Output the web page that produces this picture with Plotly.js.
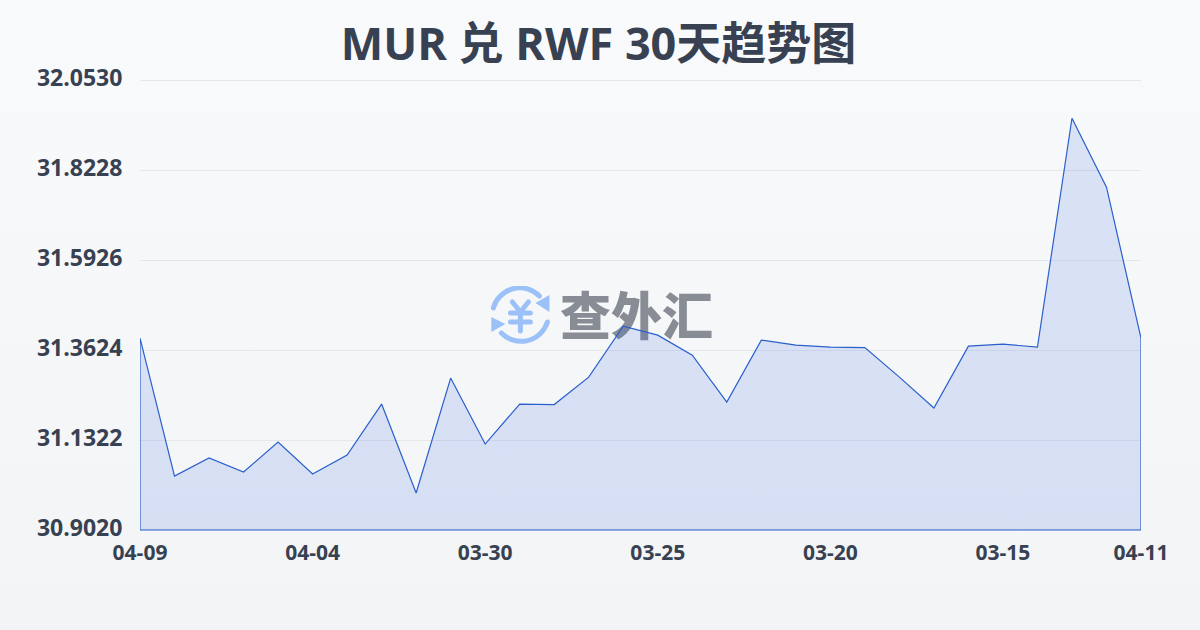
<!DOCTYPE html>
<html><head><meta charset="utf-8">
<script src="https://cdn.plot.ly/plotly-3.0.1.min.js"></script>
<style>
html,body{margin:0;padding:0;width:1200px;height:630px;overflow:hidden;background:linear-gradient(180deg,#f9fafb 0%,#f3f4f6 100%);}
#chart{width:1200px;height:630px;}
</style></head><body><div id="chart"></div>
<script>
const titleText = 'MUR 兑 RWF 30天趋势图';
const rates = [31.3931,31.0401,31.0862,31.0504,31.1271,31.0452,31.0938,31.2243,30.9966,31.2908,
  31.1220,31.2243,31.2230,31.2933,31.4238,31.4008,31.3496,31.2294,31.3880,31.3752,
  31.3701,31.3688,31.2933,31.2141,31.3726,31.3777,31.3701,31.9558,31.7793,31.3931];
const xTickPositions = [0,5,10,15,20,25,29];
const xTickLabels = ['04-09','04-04','03-30','03-25','03-20','03-15','04-11'];
const yTickValues = [30.9020,31.1322,31.3624,31.5926,31.8228,32.0530];
const yTickLabels = ['30.9020','31.1322','31.3624','31.5926','31.8228','32.0530'];
const watermark = '查外汇';
const textColor = '#374151';
const lineColor = '#2a5fcc';
const fillColor = 'rgba(50,100,220,0.15)';

const dayIndex = rates.map((_, i) => i);
const last = dayIndex[dayIndex.length - 1];
const base = yTickValues[0];
const outlineX = dayIndex.concat([last, 0, 0]);
const outlineY = rates.concat([base, base, rates[0]]);

const iconSvg = `<svg xmlns="http://www.w3.org/2000/svg" viewBox="0 0 60 58">
<g fill="none" stroke="#9cc0f8" stroke-width="5" stroke-linecap="round" stroke-linejoin="round">
<path d="M3 22 A27.5 27.5 0 0 1 49 10"/><path d="M57 36 A27.5 27.5 0 0 1 11 47"/>
<path d="M22 16 L30 26 L38 16 M20 27 H40 M20 36 H40 M30 26 V45"/></g>
<path d="M59 9 L59 26 L45 17 Z M1 31 L1 46 L15 38 Z" fill="#9cc0f8"/></svg>`;

Plotly.newPlot('chart', [{
  type: 'scatter', mode: 'lines', x: outlineX, y: outlineY, cliponaxis: false,
  fill: 'toself', fillcolor: fillColor,
  line: {color: lineColor, width: 1.2}, hoverinfo: 'skip', showlegend: false
}], {
  width: 1200, height: 630,
  paper_bgcolor: 'rgba(0,0,0,0)', plot_bgcolor: 'rgba(0,0,0,0)',
  margin: {l: 140, r: 59, t: 78, b: 99},
  font: {family: '"Open Sans","Noto Sans CJK SC",sans-serif', color: textColor},
  title: {text: titleText, x: 0.4988, xanchor: 'center', y: 0.93, yanchor: 'middle',
    font: {family: '"Open Sans","Noto Sans CJK SC",sans-serif', size: 45, weight: 700, color: '#374151'}},
  xaxis: {range: [0, last], tickmode: 'array', tickvals: xTickPositions, ticktext: xTickLabels,
    showgrid: false, zeroline: false, showline: false, ticks: 'outside', ticklen: 3, tickcolor: 'rgba(0,0,0,0)',
    tickfont: {size: 21, weight: 700, color: textColor}, automargin: false},
  yaxis: {range: [30.8994, 32.0589], tickmode: 'array', tickvals: yTickValues, ticktext: yTickLabels, ticklabelshift: -2,
    showgrid: true, gridcolor: '#e5e7eb', gridwidth: 1, zeroline: false, showline: false,
    ticks: 'outside', ticklen: 12, tickcolor: 'rgba(0,0,0,0)',
    tickfont: {size: 23, weight: 700, color: textColor}, automargin: false},
  images: [{source: 'data:image/svg+xml;utf8,' + encodeURIComponent(iconSvg), xref: 'paper', yref: 'paper',
    x: 0.35, y: (531-344)/453, sizex: 0.06, sizey: 58/453, xanchor: 'left', yanchor: 'bottom', layer: 'below', sizing: 'stretch'}],
  shapes: [{type: 'rect', xref: 'paper', yref: 'paper', x0: (556-140)/1000, x1: (716-140)/1000, y0: (531-350)/453, y1: (531-291)/453,
    layer: 'below', line: {width: 0}, fillcolor: 'rgba(0,0,0,0)',
    label: {text: watermark, textposition: 'middle center', font: {family: '"Noto Sans CJK SC"', size: 51, weight: 900, color: '#888c95'}}}]
}, {displayModeBar: false, staticPlot: true});
</script></body></html>
